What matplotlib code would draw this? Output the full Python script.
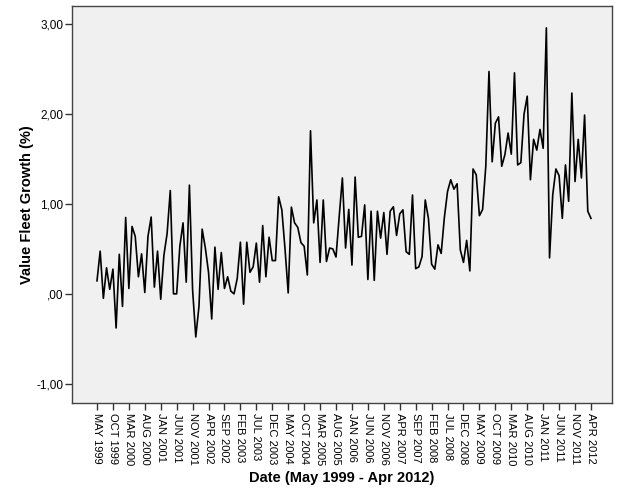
import numpy as np
import matplotlib
matplotlib.use('Agg')
import matplotlib.pyplot as plt

# monthly growth values, May 1999 .. Apr 2012
growth = [
    0.145, 0.475, -0.05, 0.29, 0.05, 0.275, -0.38, 0.44, -0.14, 0.85,
    0.06, 0.75, 0.64, 0.19, 0.445, 0.015, 0.64, 0.855, 0.075, 0.475,
    -0.06, 0.43, 0.67, 1.15, 0.00, 0.00, 0.53, 0.79, 0.13, 1.21,
    0.045, -0.48, -0.14, 0.72, 0.51, 0.24, -0.28, 0.52, 0.05, 0.46,
    0.06, 0.19, 0.03, 0.00, 0.17, 0.575, -0.115, 0.575, 0.24, 0.30,
    0.565, 0.13, 0.76, 0.19, 0.63, 0.37, 0.37, 1.08, 0.935, 0.50,
    0.01, 0.965, 0.79, 0.74, 0.57, 0.53, 0.21, 1.815, 0.79, 1.045,
    0.35, 1.045, 0.36, 0.51, 0.50, 0.41, 0.86, 1.29, 0.51, 0.94,
    0.32, 1.30, 0.63, 0.64, 0.99, 0.16, 0.92, 0.15, 0.92, 0.62,
    0.905, 0.44, 0.92, 0.97, 0.65, 0.89, 0.935, 0.47, 0.44, 1.10,
    0.28, 0.30, 0.415, 1.045, 0.84, 0.33, 0.275, 0.545, 0.45, 0.85,
    1.14, 1.27, 1.165, 1.225, 0.49, 0.35, 0.595, 0.255, 1.39, 1.325,
    0.87, 0.94, 1.42, 2.475, 1.47, 1.90, 1.97, 1.42, 1.55, 1.79,
    1.555, 2.46, 1.435, 1.46, 2.00, 2.20, 1.27, 1.72, 1.60, 1.83,
    1.62, 2.96, 0.40, 1.10, 1.39, 1.315, 0.84, 1.435, 1.03, 2.235,
    1.25, 1.72, 1.29, 1.99, 0.92, 0.84,
]

tick_labels = ['MAY 1999', 'OCT 1999', 'MAR 2000', 'AUG 2000', 'JAN 2001',
               'JUN 2001', 'NOV 2001', 'APR 2002', 'SEP 2002', 'FEB 2003',
               'JUL 2003', 'DEC 2003', 'MAY 2004', 'OCT 2004', 'MAR 2005',
               'AUG 2005', 'JAN 2006', 'JUN 2006', 'NOV 2006', 'APR 2007',
               'SEP 2007', 'FEB 2008', 'JUL 2008', 'DEC 2008', 'MAY 2009',
               'OCT 2009', 'MAR 2010', 'AUG 2010', 'JAN 2011', 'JUN 2011',
               'NOV 2011', 'APR 2012']
y_ticks = [-1.0, 0.0, 1.0, 2.0, 3.0]
y_tick_labels = ['-1,00', ',00', '1,00', '2,00', '3,00']

plt.rcParams['font.family'] = ['Liberation Sans', 'DejaVu Sans']

fig = plt.figure(figsize=(6.26, 5.01), dpi=100)
W, H = 626, 501
left, right, top, bottom = 72, 612, 6, 403
ax = fig.add_axes([left / W, 1 - bottom / H, (right - left) / W, (bottom - top) / H])
ax.set_facecolor('#f0f0f0')

x = np.arange(len(growth))
ax.plot(x, growth, color='black', linewidth=1.2)

ax.set_xlim(-7.84, 161.6)
ax.set_ylim(-1.215, 3.204)

ax.set_xticks(np.arange(0, len(growth), 5))
ax.set_xticklabels(tick_labels, rotation=270, fontsize=8)
ax.set_yticks(y_ticks)
ax.set_yticklabels(y_tick_labels, fontsize=8.5)
ax.tick_params(direction='out', length=5, width=1, color='#333333', pad=2)
ax.tick_params(axis='y', pad=1)

for s in ax.spines.values():
    s.set_color('#444444')
    s.set_linewidth(1)

ax.set_ylabel('Value Fleet Growth (%)', fontsize=10.5, fontweight='bold', labelpad=2)
ax.set_xlabel('Date (May 1999 - Apr 2012)', fontsize=10.5, fontweight='bold', labelpad=4)

fig.savefig('out.png', dpi=100)
